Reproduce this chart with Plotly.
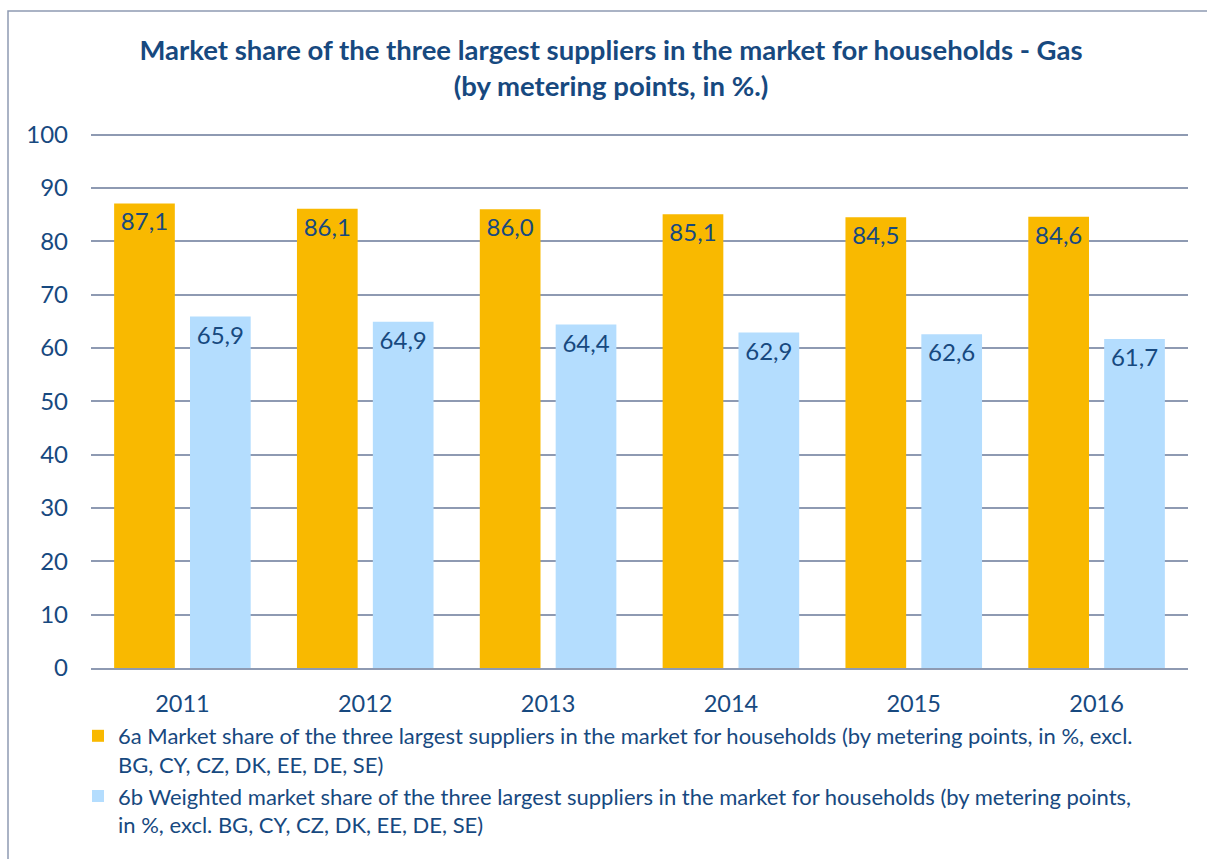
import plotly.graph_objects as go

years = ["2011", "2012", "2013", "2014", "2015", "2016"]
share_6a = [87.1, 86.1, 86.0, 85.1, 84.5, 84.6]
share_6b = [65.9, 64.9, 64.4, 62.9, 62.6, 61.7]
label_6a = ("6a Market share of the three largest suppliers in the market for households (by metering points, in %, excl."
            "<br>BG, CY, CZ, DK, EE, DE, SE)")
label_6b = ("6b Weighted market share of the three largest suppliers in the market for households (by metering points,"
            "<br>in %, excl. BG, CY, CZ, DK, EE, DE, SE)")
title_text = ("<b>Market share of the three largest suppliers in the market for households - Gas</b>"
              "<br><b>(by metering points, in %.)</b>")

def fmt(v):
    return f"{v:.1f}".replace(".", ",")

TXT = "#17497F"
GRID = "#8E9AB2"
FONT = "Lato"

W, H = 1207, 859
L, R, T, B = 91, 19, 132, 191
pw, ph = W - L - R, H - T - B

def px_x(x):
    return (x - L) / pw

def px_y(y):
    return (H - B - y) / ph

fig = go.Figure()
fig.add_trace(go.Bar(
    x=years, y=share_6a, name=label_6a,
    marker=dict(color="#F9B900", line=dict(width=0)),
    text=[fmt(v) for v in share_6a], textposition="inside", insidetextanchor="end",
    textangle=0, constraintext="none",
    textfont=dict(family=FONT, size=24, color=TXT),
    hoverinfo="x+y",
))
fig.add_trace(go.Bar(
    x=years, y=share_6b, name=label_6b,
    marker=dict(color="#B4DDFE", line=dict(width=0)),
    text=[fmt(v) for v in share_6b], textposition="inside", insidetextanchor="end",
    textangle=0, constraintext="none",
    textfont=dict(family=FONT, size=24, color=TXT),
    hoverinfo="x+y",
))

fig.update_layout(
    width=W, height=H, autosize=False,
    margin=dict(l=L, r=R, t=T, b=B, pad=0),
    paper_bgcolor="white", plot_bgcolor="white",
    font=dict(family=FONT, color=TXT),
    barmode="group", bargap=0.17, bargroupgap=0.2,
    title=dict(text=title_text, x=611 / W, xanchor="center", xref="container",
               y=1 - 60 / H, yanchor="top", yref="container",
               font=dict(family=FONT, size=27.5, color=TXT)),
    xaxis=dict(showgrid=False, showline=True, linecolor=GRID, linewidth=2,
               ticks="", tickfont=dict(family=FONT, size=23.5, color=TXT),
               ticklabelstandoff=14),
    yaxis=dict(range=[0, 100.5], dtick=10, showgrid=True, gridcolor=GRID, gridwidth=2,
               zeroline=False, showline=False, ticks="",
               tickfont=dict(family=FONT, size=24, color=TXT),
               ticklabelstandoff=22),
    legend=dict(orientation="v", x=px_x(78), xanchor="left",
                y=px_y(715), yanchor="top",
                valign="top", font=dict(family=FONT, size=22, color=TXT),
                bgcolor="rgba(0,0,0,0)", traceorder="normal"),
    shapes=[dict(type="rect", xref="paper", yref="paper",
                 x0=px_x(8), x1=px_x(1230), y0=px_y(880), y1=px_y(11),
                 line=dict(color=GRID, width=1.5), fillcolor="rgba(0,0,0,0)", layer="above")],
)

fig.write_html("out.html", config={"displayModeBar": False},
               post_script="document.body.style.margin='0';document.body.style.overflow='hidden';")
